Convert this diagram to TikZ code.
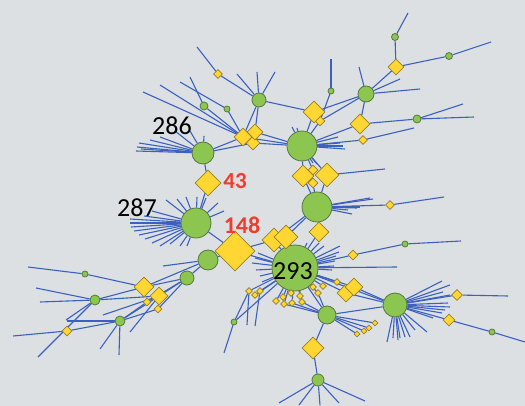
\documentclass[tikz,border=0pt]{standalone}
\usepackage{fontspec}
\setmainfont{Carlito}
\usetikzlibrary{backgrounds,shapes.geometric}
\definecolor{bgc}{RGB}{220,224,227}
\definecolor{edc}{RGB}{60,96,192}
\definecolor{gfc}{RGB}{140,198,80}
\definecolor{gdc}{RGB}{85,120,65}
\definecolor{yfc}{RGB}{255,214,50}
\definecolor{ydc}{RGB}{150,128,40}
\definecolor{redc}{RGB}{240,60,45}
\tikzset{
  ed/.style={draw=edc,line width=1.1pt},
  gn/.style={circle,fill=gfc,draw=gdc,line width=0.8pt,inner sep=0pt},
  yd/.style={diamond,shape aspect=1,fill=yfc,draw=ydc,line width=0.8pt,inner sep=0pt},
  lab/.style={inner sep=0pt,font=\fontsize{26}{26}\selectfont,text=black},
  rlab/.style={inner sep=0pt,font=\fontsize{#1}{#1}\selectfont\bfseries,text=redc},
}
\newcommand\fan[2]{\foreach \xx/\yy [count=\k] in {#2}{\coordinate (#1-l\k) at (\xx,\yy); \draw[ed] (#1) -- (#1-l\k);}}
\begin{document}
\begin{tikzpicture}[x=1pt,y=-1pt]
\useasboundingbox (0,0) rectangle (525,406);
% green circles
\foreach \n/\x/\y/\s in {g286/203/153/22, g287/196/223/30, g293/295/268/46, gUC/302/146/30, gMR/317/207/30,
  g208/208/260/20, g187/187/278/14, gTop/259/100/14, gTR/366/94/16, gTR2/395/37/7, gTR3/449/56/7,
  gR/417/119/8, g204/204/106/8, g227/227/109/6, g331/331/91/6, g327/327/315/18, g395/395/305/24,
  g318/318/380/12, g405/405/244/6, g492/492/332/6, g234/234/322/6, g85/85/274/6, g95/95/300/10, g120/120/321/10}
  {\node[gn,minimum size=\s] (\n) at (\x,\y) {};}
% yellow diamonds
\foreach \n/\x/\y/\s in {d43/208/183/26, dc3/253/143/14, dc2/255/132/16, dc1/243/137/18, d320/320/121/10, d313/314/112/22,
  d396/396/67/16, d359/360/124/20, d363/363/140/9, dm3/313/170/10, dm4/313/183/10, dm1/303/176/22, dm2/327/175/24,
  d218/218/74/9, d390/390/205/9, d318/319/232/20, dp1/274/240/24, dp2/286/237/24, d148/235/251/40, d352/353/255/10,
  dr1/346/293/18, dr2/354/287/18, d457/457/295/11, d449/449/320/12, d313b/313/348/22,
  dA/144/287/20, dB/159/296/18, dC/147/302/8, dD/158/309/8, d66/67/331/10,
  t1/249/291/7, t2/255/295/7, t3/260/291/7, t4/276/301/7, t5/283/297/7, t6/284/304/7, t7/291/293/7,
  t8/292/303/7, t9/300/296/7, t10/302/302/7, t11/313/287/7, t12/318/293/7, t13/323/286/7, t14/337/282/7,
  s1/357/334/6, s2/364/331/6, s3/369/328/6, s4/375/323/6}
  {\node[yd,minimum size=\s] (\n) at (\x,\y) {};}
% labels
\node[lab] (t286) at (172,126) {286};
\node[lab] (t287) at (137,208) {287};
\node[lab] (t293) at (293,271) {293};
\node[rlab=23] (t43) at (235,181) {43};
\node[rlab=24] (t148) at (242,225) {148};
\begin{pgfonlayer}{background}
\fill[bgc] (0,0) rectangle (525,406);
\foreach \a/\b in {g286/d43, d43/g287, g287/d148, d148/g208, g208/g187, d148/dp1, d148/g293, dp1/g293, dp2/g293, dp2/gMR, dp1/gMR,
  g286/dc1, g286/dc3, dc1/gTop, dc2/gTop, dc2/gUC, dc3/gUC, dc1/gUC, g204/dc1, g227/dc1,
  gTop/d218, gTop/d313, d313/gUC, d320/gUC, d313/gTR, d320/g331, d320/gTR,
  gTR/d396, gTR/d359, d396/gTR2, d396/gTR3, d359/gR, gUC/d359, gUC/d363,
  gUC/dm1, gUC/dm2, gUC/dm3, dm1/gMR, dm2/gMR, dm4/gMR, gMR/d318, d318/g293, gMR/d390,
  g293/d352, d352/g405, g293/dr1, g293/dr2, dr1/g395, dr2/g395, g293/g395,
  g395/d457, g395/d449, d449/g492,
  g293/g327, g327/d313b, d313b/g318, g327/s1, g327/s2, g327/s3, g327/s4, g327/g395,
  g293/t1, g293/t2, g293/t3, g293/t4, g293/t5, g293/t6, g293/t7, g293/t8, g293/t9, g293/t10, g293/t11, g293/t12, g293/t13, g293/t14,
  g327/t6, g327/t8, g327/t10, g327/t12, g234/t1, g234/g293,
  g187/dA, g187/dB, g187/dC, g187/dD, g208/dA, dA/g85, dA/g95, dB/g95, g120/dB, g120/dD, d66/g120, dC/g120}
  {\draw[ed] (\a) -- (\b);}
\fan{g286}{136/151,137/147,139/143,141/149,150/140,160/137,175/131,190/131,204/136}
\fan{g287}{130/219,130/223,131/227,134/231,139/235,145/239,152/243,160/246,144/216,152/211,166/200,177/199,186/197,197/197,206/198,218/203,224/211,170/244,180/246,187/246}
\fan{g293}{258/253,255/258,252/263,256/270,260/276,262/282,340/246,339/252,336/256,335/261,334/266,332/270,324/246,319/243,397/267,307/243}
\fan{gUC}{338/137,340/143,343/146,345/149,292/127,297/128,313/163,317/164}
\fan{d363}{414/128}
\fan{gMR}{370/198,373/199,360/207,357/208,348/210,352/214}
\fan{d390}{444/197}
\fan{dm2}{385/169}
\fan{gTop}{237/74,257/72,275/72}
\fan{d218}{197/47}
\fan{g331}{331/59}
\fan{gTR}{359/67,400/79,420/89}
\fan{gTR2}{408/13}
\fan{gTR3}{491/42}
\fan{gR}{463/104,474/117}
\fan{g204}{190/77}
\fan{g227}{180/82}
\fan{dc1}{143/92,160/85}
\fan{g405}{461/241}
\fan{g395}{442/281,450/285,443/292,450/295,448/303,450/307,445/310,442/313,433/318,427/332,415/330,410/337,405/337,400/338,398/340,393/338,387/342}
\fan{d457}{508/296}
\fan{g492}{525/342}
\fan{g318}{279/403,299/405,320/405,339/403,365/401}
\fan{g234}{224/353}
\fan{t1}{247/325}
\fan{t3}{255/326}
\fan{g208}{163/266}
\fan{g85}{28/267}
\fan{g95}{36/288,40/302,38/357,66/320}
\fan{g120}{67/321,100/349,119/355}
\fan{d66}{13/336}
\fan{dB}{103/315,130/332}
\end{pgfonlayer}
\end{tikzpicture}
\end{document}
